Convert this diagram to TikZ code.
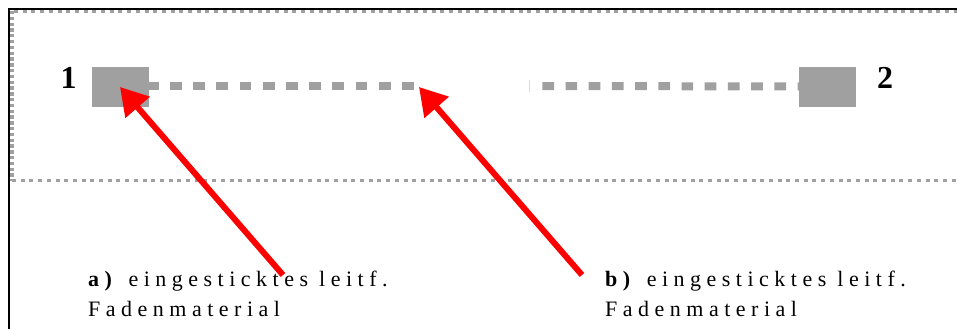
\documentclass[tikz,border=0pt]{standalone}
\usepackage{fontspec}
\setmainfont{Liberation Serif}
\usetikzlibrary{arrows.meta}
\definecolor{padgray}{HTML}{A0A0A0}
\definecolor{arrred}{HTML}{FF0000}
\tikzset{
  frameline/.style={black, line width=2pt},
  dotline/.style={padgray, line width=3pt, dash pattern=on 4pt off 4.7pt},
  dotvert/.style={padgray, line width=4pt, dash pattern=on 3.3pt off 2.5pt},
  thread/.style={padgray, line width=8pt, dash pattern=on 11.7pt off 11.5pt},
  pad/.style={fill=padgray, draw=none, minimum width=57pt, minimum height=40pt, inner sep=0pt},
  padlabel/.style={font=\fontsize{32}{32}\selectfont\bfseries, inner sep=0pt},
  caption/.style={font=\fontsize{22}{24}\selectfont\addfontfeatures{LetterSpace=25}, inner sep=0pt, anchor=base west},
  redarrow/.style={arrred, line width=6pt, -{Triangle[length=27pt, width=31pt]}}
}
\begin{document}
\begin{tikzpicture}[x=1pt, y=-1pt]
\useasboundingbox (0,0) rectangle (957,329);
% outer frame
\draw[frameline] (9,329) -- (9,9) -- (957,9);
% dotted area
\draw[dotline] (14,11.5) -- (957,11.5);
\draw[dotvert] (12,11) -- (12,181);
\draw[dotline] (12,180.5) -- (957,180.5);
% pads
\node[pad] (p1) at (120.5,86.5) {};
\node[pad] (p2) at (827.5,86.5) {};
\node[padlabel, anchor=base] (l1) at (68.5,88) {1};
\node[padlabel, anchor=base] (l2) at (885,88) {2};
% thread
\coordinate (t1s) at (146.8,86);
\coordinate (t1) at (414,86);
\coordinate (t2) at (542.3,86);
\draw[thread] (t1s) -- (t1);
\draw[padgray!40, line width=1pt] (529.3,80) -- (529.3,92);
\draw[thread] (t2) -- (p2.west);
% captions
\node[caption] (a1) at (88,286) {\textbf{a)} eingesticktes leitf.};
\node[caption] (a2) at (88,316) {Fadenmaterial};
\node[caption] (b1) at (605,286) {\textbf{b)} eingesticktes leitf.};
\node[caption] (b2) at (605,316) {Fadenmaterial};
% arrows
\coordinate (ta) at (283,275);
\coordinate (ha) at (120,87);
\coordinate (tb) at (582,275);
\coordinate (hb) at (419,87);
\draw[redarrow] (ta) -- (ha);
\draw[redarrow] (tb) -- (hb);
\end{tikzpicture}
\end{document}
